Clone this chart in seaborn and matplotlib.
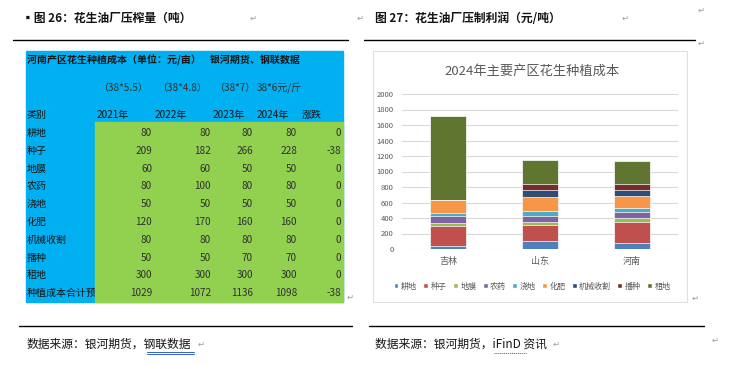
import matplotlib
matplotlib.use('Agg')
import matplotlib.pyplot as plt
from matplotlib.patches import Rectangle, Patch
import seaborn as sns
import pandas as pd

sns.set_style('white')
plt.rcParams['font.family'] = ['Noto Sans CJK SC', 'DejaVu Sans']

# table data (left picture)
items = ['耕地', '种子', '地膜', '农药', '浇地', '化肥', '机械收割', '播种', '租地']
cost_2021 = [80, 209, 60, 80, 50, 120, 80, 50, 300]
cost_2022 = [80, 182, 60, 100, 50, 170, 80, 50, 300]
cost_2023 = [80, 266, 50, 80, 50, 160, 80, 70, 300]
cost_2024 = [80, 228, 50, 80, 50, 160, 80, 70, 300]
change = [0, -38, 0, 0, 0, 0, 0, 0, 0]
price_notes = ['（38*5.5）', '（38*4.8）', '（38*7）', '38*6元/斤']
years = ['2021年', '2022年', '2023年', '2024年']

# chart data (right picture)
regions = ['吉林', '山东', '河南']
jilin = [45, 250, 45, 85, 35, 175, 0, 0, 1085]
shandong = [105, 205, 35, 85, 60, 175, 100, 80, 300]
henan = [80, 266, 50, 80, 50, 160, 80, 70, 300]
colors = ['#4F81BD', '#C0504D', '#9BBB59', '#8064A2', '#4BACC6',
          '#F79646', '#2C4D75', '#772C2A', '#5F7530']

fig = plt.figure(figsize=(7.38, 3.65), dpi=100)
bg = fig.add_axes([0, 0, 1, 1])
bg.set_xlim(0, 738)
bg.set_ylim(365, 0)
bg.axis('off')

ink = '#141414'
mark = '#9a9a9a'

# headings and rules
bg.text(22, 18, '▪图 26：花生油厂压榨量（吨）', fontsize=8.5, fontweight='bold',
        color=ink, va='center')
bg.text(375, 18, '图 27：花生油厂压制利润（元/吨）', fontsize=8.5, fontweight='bold',
        color=ink, va='center')
bg.plot([13, 348], [40, 40], color='black', lw=1)
bg.plot([364, 695], [40, 40], color='black', lw=1)
bg.plot([19, 352], [326, 326], color='black', lw=1)
bg.plot([369, 704], [326, 326], color='black', lw=1)
bg.text(27, 344, '数据来源：银河期货，钢联数据', fontsize=8.5, color=ink, va='center')
bg.plot([147, 194], [352, 352], color='#3060d0', lw=0.7)
bg.plot([147, 194], [354, 354], color='#3060d0', lw=0.7)
bg.text(375, 344, '数据来源：银河期货，iFinD 资讯', fontsize=8.5, color=ink, va='center')
bg.plot([494, 526], [353, 353], color='#e02020', lw=0.7, ls=(0, (1, 1)))
for x, y in [(250, 18), (357, 18), (622, 18), (698, 10), (698, 43),
             (347, 297), (692, 298), (198, 344), (553, 344), (712, 340)]:
    bg.text(x, y, '↵', fontsize=6, color=mark, va='center', family='DejaVu Sans')

# table picture
bg.add_patch(Rectangle((26, 51), 317, 251, color='#00B0F0', zorder=1))
bg.add_patch(Rectangle((95, 122), 248, 180, color='#92D050', zorder=1.8))
tsize = 7.2
bg.text(27, 60, '河南产区花生种植成本（单位：元/亩）    银河期货、钢联数据',
        fontsize=tsize, fontweight='bold', color=ink, va='center', zorder=2)
for x, s in zip([98, 157, 214, 257], price_notes):
    bg.text(x, 88, s, fontsize=tsize, color='#303030', va='center', zorder=2)
bg.text(27, 115, '类别', fontsize=tsize, color=ink, va='center', zorder=2)
for x, s in zip([97, 155, 213, 257], years):
    bg.text(x, 115, s, fontsize=tsize, color=ink, va='center', zorder=2)
bg.text(302, 115, '涨跌', fontsize=tsize, color=ink, va='center', zorder=2)

labels = items + ['种植成本合计预估']
cols = [cost_2021 + [sum(cost_2021)], cost_2022 + [sum(cost_2022)],
        cost_2023 + [sum(cost_2023)], cost_2024 + [sum(cost_2024)],
        change + [sum(change)]]
rights = [152, 211, 253, 297, 341]
for i, lab in enumerate(labels):
    y = 133 + i * 17.8
    # labels sit under the green block so a long one is cut at its edge
    bg.text(27, y, lab, fontsize=tsize, color=ink, va='center', zorder=1.5)
    for xr, col in zip(rights, cols):
        bg.text(xr, y, str(col[i]), fontsize=tsize, color='#303030', va='center',
                ha='right', zorder=2)

# chart picture
bg.add_patch(Rectangle((373, 51), 314, 251, facecolor='white',
                       edgecolor='#E0E0E0', lw=0.8, zorder=1))
bg.text(532, 71, '2024年主要产区花生种植成本', fontsize=9.5, color='#595959',
        ha='center', va='center', zorder=2)

ax = fig.add_axes([402 / 738, 1 - 249 / 365, 276 / 738, 155 / 365])
ax.patch.set_alpha(0)

rows = []
for reg, vals in zip(regions, [jilin, shandong, henan]):
    run = 0
    for it, v in zip(items, vals):
        run += v
        rows.append({'region': reg, 'item': it, 'top': run})
df = pd.DataFrame(rows)

# draw cumulative tops from the highest layer down
for it, c in reversed(list(zip(items, colors))):
    sns.barplot(data=df[df['item'] == it], x='region', y='top', order=regions,
                color=c, saturation=1, width=0.4, errorbar=None,
                edgecolor='white', linewidth=0.5, ax=ax, zorder=3)

ax.set_ylim(0, 2000)
ax.set_xlim(-0.5, 2.5)
ax.set_yticks(range(0, 2001, 200))
ax.yaxis.grid(True, color='#D9D9D9', lw=0.8, zorder=0)
ax.set_axisbelow(True)
for s in ax.spines.values():
    s.set_visible(False)
ax.set_xlabel('')
ax.set_ylabel('')
ax.tick_params(axis='y', length=0, labelsize=5.5, labelcolor='#595959', pad=6)
ax.tick_params(axis='x', length=0, labelsize=6.5, labelcolor='#595959', pad=6)

handles = [Patch(facecolor=c, label=it) for it, c in zip(items, colors)]
fig.legend(handles=handles, loc='center', bbox_to_anchor=(532 / 738, 1 - 286 / 365),
           ncol=9, frameon=False, fontsize=5.8, handlelength=0.6, handleheight=0.6,
           handletextpad=0.3, columnspacing=0.8, labelcolor='#595959')

fig.savefig('out.png', dpi=100)
